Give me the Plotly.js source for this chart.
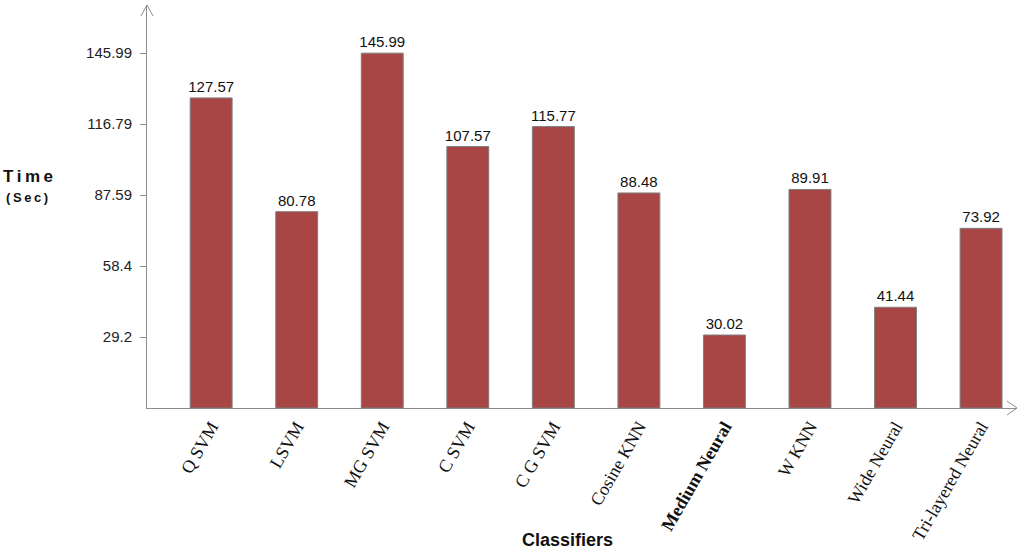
<!DOCTYPE html>
<html>
<head>
<meta charset="utf-8">
<script src="https://cdn.plot.ly/plotly-3.0.1.min.js"></script>
<style>html,body{margin:0;padding:0;background:#fff;}#chart{width:1021px;height:550px;}</style>
</head>
<body>
<div id="chart"></div>
<script>
const categories = ["Q SVM","LSVM","MG SVM","C SVM","C G SVM","Cosine KNN","Medium Neural","W KNN","Wide Neural","Tri-layered Neural"];
const categoryLabels = ["Q SVM","LSVM","MG SVM","C SVM","C G SVM","Cosine KNN","<b>Medium Neural</b>","W KNN","Wide Neural","Tri-layered Neural"];
const timeSec = [127.57, 80.78, 145.99, 107.57, 115.77, 88.48, 30.02, 89.91, 41.44, 73.92];
const yTickVals = [29.2, 58.4, 87.59, 116.79, 145.99];
const yTickText = ["29.2","58.4","87.59","116.79","145.99"];

const xIdx = categories.map((c,i)=>i);

const trace = {
  type: 'bar',
  x: xIdx,
  y: timeSec,
  text: timeSec.map(v=>v.toFixed(2)),
  textposition: 'outside',
  constraintext: 'none',
  cliponaxis: false,
  textfont: {family: 'Liberation Sans, Arial, sans-serif', size: 15, color: '#111'},
  marker: {color: '#a84545', line: {color: '#7f7f7f', width: 1}},
  width: 0.49,
  hoverinfo: 'x+y'
};

const axisGray = '#8c8c8c';
const layout = {
  width: 1021, height: 550,
  margin: {l: 147, r: 4, t: 5, b: 142},
  paper_bgcolor: '#fff', plot_bgcolor: '#fff',
  showlegend: false,
  font: {family: 'Liberation Sans, Arial, sans-serif', color: '#222'},
  xaxis: {
    range: [-0.75, 9.42],
    tickvals: xIdx,
    ticktext: categoryLabels,
    tickangle: -60,
    tickfont: {family: 'Liberation Serif, Times New Roman, serif', size: 18, color: '#111'},
    ticks: '', showgrid: false, zeroline: false,
    showline: true, linecolor: axisGray, linewidth: 1,
    fixedrange: true
  },
  yaxis: {
    range: [0, 165.8],
    tickvals: yTickVals,
    ticktext: yTickText,
    tickfont: {family: 'Liberation Sans, Arial, sans-serif', size: 15, color: '#222'},
    ticks: 'outside', ticklen: 6, tickcolor: axisGray, tickwidth: 1,
    ticklabelstandoff: 5,
    showgrid: false, zeroline: false,
    showline: true, linecolor: axisGray, linewidth: 1,
    fixedrange: true
  },
  shapes: [
    {type:'line', xref:'paper', yref:'paper', xsizemode:'pixel', ysizemode:'pixel', xanchor:0, yanchor:1, x0:-6, y0:-11, x1:0, y1:0, line:{color:axisGray, width:1}},
    {type:'line', xref:'paper', yref:'paper', xsizemode:'pixel', ysizemode:'pixel', xanchor:0, yanchor:1, x0:6, y0:-11, x1:0, y1:0, line:{color:axisGray, width:1}},
    {type:'line', xref:'paper', yref:'paper', xsizemode:'pixel', ysizemode:'pixel', xanchor:1, yanchor:0, x0:-10, y0:7, x1:0, y1:0, line:{color:axisGray, width:1}},
    {type:'line', xref:'paper', yref:'paper', xsizemode:'pixel', ysizemode:'pixel', xanchor:1, yanchor:0, x0:-10, y0:-7, x1:0, y1:0, line:{color:axisGray, width:1}}
  ],
  annotations: [
    {text:'<b>T\u2009i\u2009m\u2009e</b>', xref:'paper', yref:'paper', x:0, y:(408-176)/403, xshift:-119, xanchor:'center', yanchor:'middle', showarrow:false, font:{family:'Liberation Sans, Arial, sans-serif', size:17, color:'#111'}},
    {text:'<b>(\u2009S\u2009e\u2009c\u2009)</b>', xref:'paper', yref:'paper', x:0, y:(408-197)/403, xshift:-120, xanchor:'center', yanchor:'middle', showarrow:false, font:{family:'Liberation Sans, Arial, sans-serif', size:13, color:'#111'}},
    {text:'<b>Classifiers</b>', xref:'paper', yref:'paper', x:(567-147)/870, y:0, yshift:-132, xanchor:'center', yanchor:'middle', showarrow:false, font:{family:'Liberation Sans Narrow, Liberation Sans, Arial, sans-serif', size:18, color:'#111'}}
  ]
};

Plotly.newPlot('chart', [trace], layout, {displayModeBar: false, staticPlot: true});
</script>
</body>
</html>
